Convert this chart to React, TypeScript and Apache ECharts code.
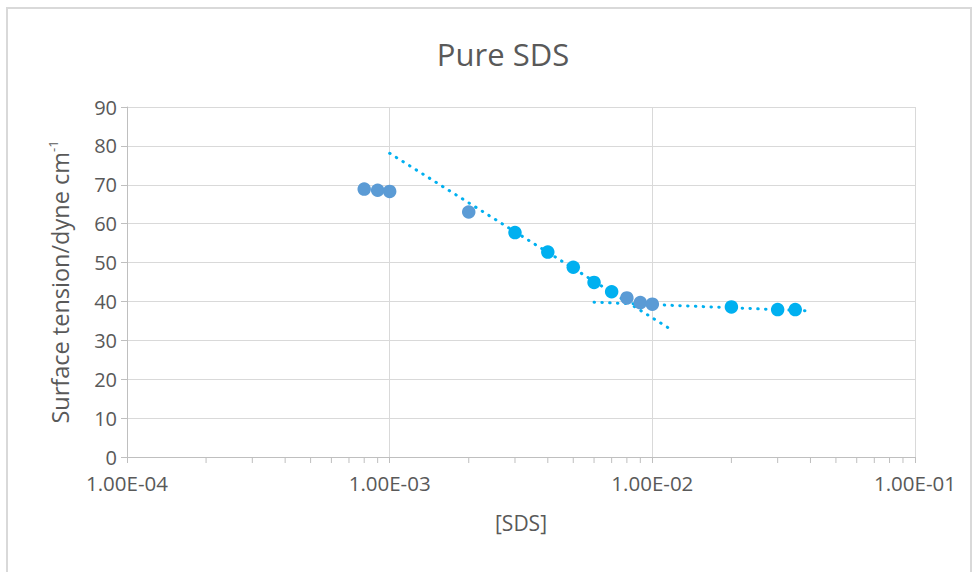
import React, { useEffect, useRef } from "react";
import * as echarts from "echarts";

// ---- data ----
const titleText = "Pure SDS";
const xAxisName = "[SDS]";
const yAxisNameMain = "Surface tension/dyne cm";
const yAxisNameSup = "-1";

const xTickLabels = ["1.00E-04", "1.00E-03", "1.00E-02", "1.00E-01"];
const yTicks = [0, 10, 20, 30, 40, 50, 60, 70, 80, 90];

// dark-blue points
const darkX = [8e-4, 9e-4, 1e-3, 2e-3, 8e-3, 9e-3, 1e-2];
const darkY = [68.9, 68.6, 68.3, 63.0, 40.9, 39.7, 39.3];

// cyan points
const cyanX = [3e-3, 4e-3, 5e-3, 6e-3, 7e-3, 2e-2, 3e-2, 3.5e-2];
const cyanY = [57.7, 52.7, 48.8, 44.9, 42.5, 38.6, 37.9, 37.9];

// trendlines (start / end)
const steepTrendX = [1e-3, 1.17e-2];
const steepTrendY = [78.1, 32.9];
const flatTrendX = [6e-3, 3.85e-2];
const flatTrendY = [39.8, 37.6];

// minor tick positions on log axis
const decades = [1e-4, 1e-3, 1e-2];
const minorMultipliers = [2, 3, 4, 5, 6, 7, 8, 9];

const pair = (xs: number[], ys: number[]) => xs.map((x, i) => [x, ys[i]]);

export default function App() {
  const ref = useRef<HTMLDivElement>(null);

  useEffect(() => {
    document.body.style.margin = "0";
    const chart = echarts.init(ref.current!, null, { renderer: "svg" });
    const font = "'Open Sans', sans-serif";
    const labelColor = "#595959";
    const gridColor = "#D9D9D9";
    const axisColor = "#BFBFBF";

    const minorTicks: number[][] = [];
    decades.forEach((d) => minorMultipliers.forEach((m) => minorTicks.push([d * m, 0])));

    const trendStyle = {
      color: "#00B0F0",
      width: 3,
      type: [0.5, 7.3] as any,
      cap: "round" as const,
    };

    chart.setOption({
      animation: false,
      backgroundColor: "#ffffff",
      textStyle: { fontFamily: font },
      title: {
        text: titleText,
        left: 498,
        top: 33,
        textAlign: "center",
        textStyle: { fontFamily: font, fontSize: 31, fontWeight: "normal", color: labelColor },
      },
      grid: { left: 127, right: 60, top: 107, bottom: 115, containLabel: false },
      graphic: [
        {
          type: "rect",
          shape: { x: 7, y: 8, width: 964, height: 600 },
          style: { fill: "none", stroke: gridColor, lineWidth: 2 },
          silent: true,
          z: -10,
        },
      ],
      xAxis: {
        type: "log",
        logBase: 10,
        min: 1e-4,
        max: 1e-1,
        name: xAxisName,
        nameLocation: "middle",
        nameGap: 55,
        nameTextStyle: { fontFamily: font, fontSize: 21, color: labelColor },
        axisLine: { show: true, onZero: false, lineStyle: { color: axisColor, width: 1 } },
        axisTick: { show: true, length: 6, lineStyle: { color: axisColor } },
        axisLabel: {
          color: labelColor,
          fontFamily: font,
          fontSize: 20.5,
          margin: 15,
          formatter: (v: number) => {
            const idx = Math.round(Math.log10(v)) + 4;
            return xTickLabels[idx] ?? "";
          },
        },
        splitLine: { show: true, lineStyle: { color: gridColor, width: 1 } },
        minorTick: { show: false },
      },
      yAxis: {
        type: "value",
        min: 0,
        max: 90,
        interval: 10,
        name: `{a|${yAxisNameMain}}{b|${yAxisNameSup}}`,
        nameLocation: "middle",
        nameRotate: 90,
        nameGap: 53,
        nameTextStyle: {
          rich: {
            a: { fontFamily: font, fontSize: 23.5, color: labelColor, lineHeight: 28 },
            b: { fontFamily: font, fontSize: 13, color: labelColor, lineHeight: 28, verticalAlign: "top" },
          },
        },
        axisLine: { show: true, lineStyle: { color: axisColor, width: 1 } },
        axisTick: { show: true, length: 6, lineStyle: { color: axisColor } },
        axisLabel: {
          color: labelColor,
          fontFamily: font,
          fontSize: 20,
          margin: 10,
          formatter: (v: number) => (yTicks.includes(v) ? String(v) : ""),
        },
        splitLine: { show: true, lineStyle: { color: gridColor, width: 1 } },
      },
      series: [
        {
          name: "minorTicks",
          type: "custom",
          clip: false,
          silent: true,
          z: 1,
          data: minorTicks,
          renderItem: (params: any, api: any) => {
            const p = api.coord([api.value(0), api.value(1)]);
            return {
              type: "line",
              shape: { x1: p[0], y1: p[1], x2: p[0], y2: p[1] + 6 },
              style: { stroke: axisColor, lineWidth: 1 },
            };
          },
        },
        {
          name: "steepTrend",
          type: "line",
          data: pair(steepTrendX, steepTrendY),
          showSymbol: false,
          symbol: "none",
          lineStyle: trendStyle,
          z: 2,
        },
        {
          name: "flatTrend",
          type: "line",
          data: pair(flatTrendX, flatTrendY),
          showSymbol: false,
          symbol: "none",
          lineStyle: trendStyle,
          z: 2,
        },
        {
          name: "dark",
          type: "scatter",
          data: pair(darkX, darkY),
          symbol: "circle",
          symbolSize: 13.5,
          itemStyle: { color: "#5B9BD5", opacity: 1 },
          z: 3,
        },
        {
          name: "cyan",
          type: "scatter",
          data: pair(cyanX, cyanY),
          symbol: "circle",
          symbolSize: 13.5,
          itemStyle: { color: "#00B0F0", opacity: 1 },
          z: 3,
        },
      ],
    });

    return () => chart.dispose();
  }, []);

  return (
    <div
      ref={ref}
      style={{ position: "fixed", left: 0, top: 0, width: 975, height: 572 }}
    />
  );
}
